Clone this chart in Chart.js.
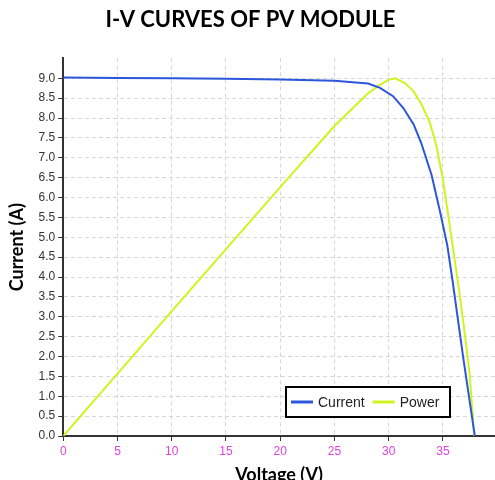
<!DOCTYPE html>
<html>
<head>
<meta charset="utf-8">
<script src="https://cdn.jsdelivr.net/npm/chart.js@4/dist/chart.umd.min.js"></script>
<style>
  html, body { margin: 0; padding: 0; background: #fff; }
  #wrap { width: 495px; height: 480px; }
</style>
</head>
<body>
<div id="wrap"><canvas id="ivChart"></canvas></div>
<script>
// values
const currentVolts = [0, 5, 10, 15, 20, 25, 28.1, 29.2, 30.4, 31.35, 32.3, 33.0, 33.96, 34.72, 35.4, 35.89, 36.87, 37.94];
const currentAmps  = [9.02, 9.01, 9.0, 8.99, 8.97, 8.94, 8.87, 8.76, 8.55, 8.25, 7.84, 7.37, 6.56, 5.66, 4.8, 3.9, 1.97, 0];
const powerVolts   = [0, 5, 10, 15, 20, 25, 28, 29.2, 30, 30.6, 31.5, 32.3, 33.0, 33.8, 34.4, 35.0, 35.6, 36.1, 36.5, 37.0, 37.45, 37.88];
const powerScaled  = [0, 1.57, 3.14, 4.7, 6.26, 7.8, 8.6, 8.84, 8.96, 9.0, 8.88, 8.67, 8.36, 7.88, 7.3, 6.45, 5.35, 4.4, 3.65, 2.6, 1.6, 0];
const xTicks = [0, 5, 10, 15, 20, 25, 30, 35];

const toPoints = (xs, ys) => xs.map((x, i) => ({ x: x, y: ys[i] }));

// legend drawn inside the plot, bottom right, with a black frame
const boxLegend = {
    id: 'boxLegend',
    afterDatasetsDraw(chart) {
        const ctx = chart.ctx;
        const area = chart.chartArea;
        const w = 164, h = 30;
        const x = area.right - 45 - w;
        const y = area.bottom - 19 - h;
        ctx.save();
        ctx.fillStyle = '#fff';
        ctx.fillRect(x, y, w, h);
        ctx.strokeStyle = '#000';
        ctx.lineWidth = 2;
        ctx.strokeRect(x, y, w, h);
        ctx.font = '14px "Liberation Sans", Arial, sans-serif';
        ctx.textBaseline = 'middle';
        let cx = x + 5;
        chart.data.datasets.forEach(ds => {
            ctx.strokeStyle = ds.borderColor;
            ctx.lineWidth = 3;
            ctx.beginPath();
            ctx.moveTo(cx, y + h / 2);
            ctx.lineTo(cx + 22, y + h / 2);
            ctx.stroke();
            ctx.fillStyle = '#222';
            ctx.fillText(ds.label, cx + 27, y + h / 2 + 1);
            cx += 27 + ctx.measureText(ds.label).width + 8;
        });
        ctx.restore();
    }
};

new Chart(document.getElementById('ivChart'), {
    type: 'line',
    data: {
        datasets: [{
            label: 'Current',
            data: toPoints(currentVolts, currentAmps),
            borderColor: '#2c56dc',
            borderWidth: 2,
            pointRadius: 0,
            tension: 0
        }, {
            label: 'Power',
            data: toPoints(powerVolts, powerScaled),
            borderColor: '#cdf51e',
            borderWidth: 2,
            pointRadius: 0,
            tension: 0
        }]
    },
    options: {
        responsive: true,
        maintainAspectRatio: false,
        animation: false,
        layout: { padding: { top: 0, right: 0, left: 6, bottom: 0 } },
        plugins: {
            legend: { display: false },
            tooltip: { enabled: false },
            title: {
                display: true,
                text: 'I-V CURVES OF PV MODULE',
                color: '#000',
                font: { family: 'Lato', size: 22, weight: 'bold' },
                padding: { top: 7, bottom: 25 }
            }
        },
        scales: {
            x: {
                type: 'linear',
                min: 0,
                max: 39.8,
                afterBuildTicks: axis => { axis.ticks = xTicks.map(v => ({ value: v })); },
                ticks: { color: '#e040e0', font: { family: 'Liberation Sans', size: 12 }, padding: 3 },
                grid: { color: '#d6d6d6', tickColor: '#333', tickLength: 5 },
                border: { color: '#333', width: 2, dash: [4, 3] },
                title: {
                    display: true,
                    text: 'Voltage (V)',
                    color: '#000',
                    font: { family: 'Lato', size: 18, weight: 'bold' },
                    padding: { top: 3, bottom: -6 }
                }
            },
            y: {
                min: 0,
                max: 9.5,
                ticks: {
                    stepSize: 0.5,
                    includeBounds: false,
                    color: '#333',
                    font: { family: 'Liberation Sans', size: 12 },
                    padding: 3,
                    callback: v => v.toFixed(1)
                },
                afterBuildTicks: axis => { axis.ticks = axis.ticks.filter(t => t.value < 9.45); },
                grid: { color: '#d6d6d6', tickColor: '#333', tickLength: 5 },
                border: { color: '#333', width: 2, dash: [4, 3] },
                title: {
                    display: true,
                    text: 'Current (A)',
                    color: '#000',
                    font: { family: 'Lato', size: 18, weight: 'bold' },
                    padding: { top: 0, bottom: 8 }
                }
            }
        }
    },
    plugins: [boxLegend]
});
</script>
</body>
</html>
